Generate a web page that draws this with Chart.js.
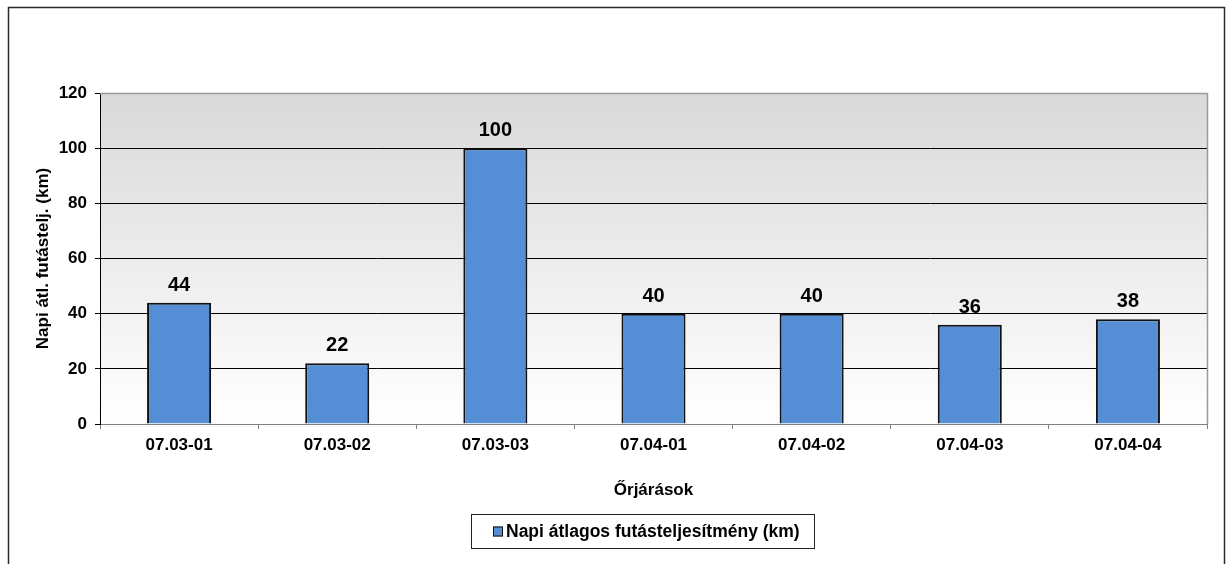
<!DOCTYPE html>
<html>
<head>
<meta charset="utf-8">
<script src="https://cdn.jsdelivr.net/npm/chart.js@4/dist/chart.umd.min.js"></script>
<style>
  html, body { margin: 0; padding: 0; background: #ffffff; }
  #wrap { width: 1230px; height: 564px; }
</style>
</head>
<body>
<div id="wrap"><canvas id="c" width="1230" height="564"></canvas></div>
<script>
// Patrol rounds and their average daily mileage (km)
const categories = ['07.03-01', '07.03-02', '07.03-03', '07.04-01', '07.04-02', '07.04-03', '07.04-04'];
const dailyKm = [44, 22, 100, 40, 40, 36, 38];
const seriesLabel = 'Napi átlagos futásteljesítmény (km)';
const yTitle = 'Napi átl. futástelj. (km)';
const xTitle = 'Őrjárások';

const FONT = '"Liberation Sans", Arial, Helvetica, sans-serif';
const BAR_FILL = '#558ed5';
const BAR_EDGE = '#111111';

// Grey gradient behind the plot area, outer frame, plot border, legend box
const decor = {
  id: 'decor',
  beforeDraw(chart) {
    const { ctx, chartArea: a } = chart;
    ctx.save();
    ctx.fillStyle = '#ffffff';
    ctx.fillRect(0, 0, chart.width, chart.height);
    const g = ctx.createLinearGradient(0, a.top, 0, a.bottom);
    g.addColorStop(0, '#d9d9d9');
    g.addColorStop(1, '#ffffff');
    ctx.fillStyle = g;
    ctx.fillRect(a.left, a.top, a.right - a.left, a.bottom - a.top);
    ctx.restore();
  },
  afterDraw(chart) {
    const { ctx, chartArea: a } = chart;
    ctx.save();
    // plot area edges (top and right)
    ctx.strokeStyle = '#9a9a9a';
    ctx.lineWidth = 1.5;
    ctx.beginPath();
    ctx.moveTo(a.left, a.top + 0.5);
    ctx.lineTo(a.right + 0.5, a.top + 0.5);
    ctx.lineTo(a.right + 0.5, a.bottom);
    ctx.stroke();

    // outer frame
    ctx.strokeStyle = '#2a2a2a';
    ctx.lineWidth = 1.5;
    ctx.strokeRect(8.5, 7.5, 1216, 700);

    // legend
    const ds = chart.data.datasets[0];
    ctx.font = 'bold 17.5px ' + FONT;
    ctx.textBaseline = 'middle';
    ctx.textAlign = 'left';
    const boxL = 471.5, boxT = 514.5, boxW = 343, boxH = 34;
    const markX = 493, markS = 10;
    const textX = markX + markS + 3;
    ctx.fillStyle = '#ffffff';
    ctx.fillRect(boxL, boxT, boxW, boxH);
    ctx.strokeStyle = '#222222';
    ctx.lineWidth = 1;
    ctx.strokeRect(boxL, boxT, boxW, boxH);
    const cy = boxT + boxH / 2;
    ctx.fillStyle = ds.backgroundColor;
    ctx.fillRect(markX, cy - markS / 2, markS, markS);
    ctx.strokeStyle = '#111111';
    ctx.strokeRect(markX + 0.5, cy - markS / 2 + 0.5, markS - 1, markS - 1);
    ctx.fillStyle = '#000000';
    ctx.fillText(ds.label, textX, cy + 1);
    ctx.restore();
  }
};

// Value labels above each bar
const valueLabels = {
  id: 'valueLabels',
  afterDatasetsDraw(chart) {
    const { ctx } = chart;
    const meta = chart.getDatasetMeta(0);
    const values = chart.data.datasets[0].data;
    ctx.save();
    ctx.font = 'bold 20px ' + FONT;
    ctx.fillStyle = '#000000';
    ctx.textAlign = 'center';
    ctx.textBaseline = 'alphabetic';
    meta.data.forEach((bar, i) => {
      ctx.fillText(String(values[i]), bar.x, bar.y - 12);
    });
    ctx.restore();
  }
};

new Chart(document.getElementById('c'), {
  type: 'bar',
  data: {
    labels: categories,
    datasets: [{
      label: seriesLabel,
      data: dailyKm,
      backgroundColor: BAR_FILL,
      borderColor: BAR_EDGE,
      borderWidth: 2,
      categoryPercentage: 1,
      barPercentage: 0.405
    }]
  },
  options: {
    responsive: false,
    devicePixelRatio: 1,
    animation: false,
    layout: { padding: { top: 93, right: 23, bottom: 0, left: 0 } },
    plugins: {
      legend: { display: false },
      tooltip: { enabled: false }
    },
    scales: {
      x: {
        grid: {
          offset: true,
          drawOnChartArea: false,
          drawTicks: true,
          tickLength: 5,
          color: '#808080'
        },
        border: { color: '#808080', width: 1 },
        ticks: {
          color: '#000000',
          padding: 6,
          maxRotation: 0,
          font: { family: FONT, size: 17, weight: 'bold' }
        },
        title: {
          display: true,
          text: xTitle,
          color: '#000000',
          font: { family: FONT, size: 17, weight: 'bold' },
          padding: { top: 0, bottom: 63 }
        },
        afterFit(scale) { scale.height = 140; }
      },
      y: {
        min: 0,
        max: 120,
        grid: {
          color: (c) => (c.tick && (c.tick.value === 0 || c.tick.value === 120)) ? 'rgba(0,0,0,0)' : '#000000',
          tickColor: '#000000',
          tickLength: 5,
          lineWidth: 1
        },
        border: { color: '#000000', width: 1 },
        ticks: {
          stepSize: 20,
          color: '#000000',
          padding: 8,
          font: { family: FONT, size: 17, weight: 'bold' }
        },
        title: {
          display: true,
          text: yTitle,
          color: '#000000',
          font: { family: FONT, size: 17, weight: 'bold' },
          padding: { top: 33, bottom: 0 }
        },
        afterFit(scale) { scale.width = 100; }
      }
    }
  },
  plugins: [decor, valueLabels]
});
</script>
</body>
</html>
